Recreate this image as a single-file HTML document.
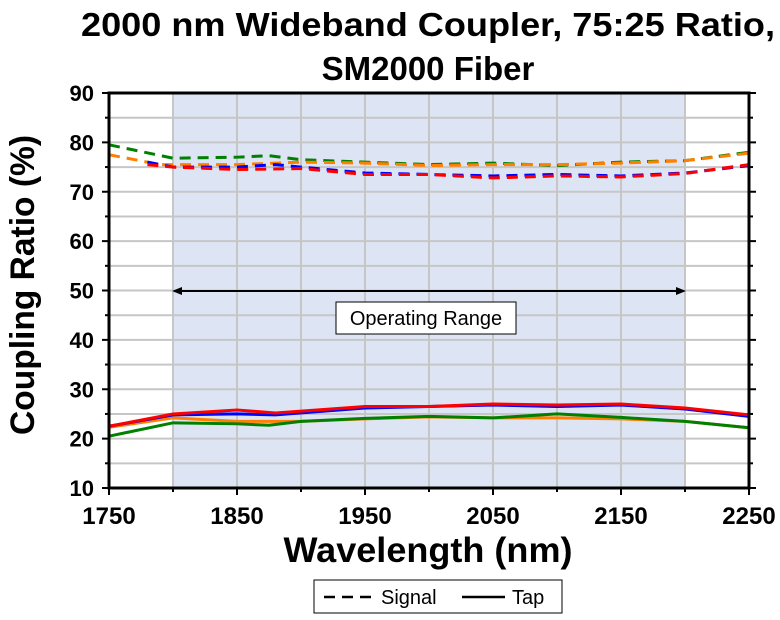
<!DOCTYPE html><html><head><style>body{margin:0;background:#fff}svg{font-family:"Liberation Sans",Arial,sans-serif;font-weight:bold}</style></head><body>
<svg id="s" width="780" height="615" viewBox="0 0 780 615" xmlns="http://www.w3.org/2000/svg">
<text x="428" y="36" font-size="33" text-anchor="middle" textLength="694" lengthAdjust="spacingAndGlyphs">2000 nm Wideband Coupler, 75:25 Ratio,</text>
<text x="428" y="80" font-size="33" text-anchor="middle">SM2000 Fiber</text>
<rect x="173" y="93" width="512" height="395" fill="#dde5f5"/>
<g id="grid" stroke="#c6c6c6" stroke-width="2"></g>
<g id="series" fill="none" stroke-width="3"></g>
<line x1="178" y1="291" x2="680" y2="291" stroke="#000" stroke-width="2"/>
<polygon points="172,291 182,287 182,295" fill="#000"/>
<polygon points="686,291 676,287 676,295" fill="#000"/>
<rect x="336" y="302" width="180" height="32" fill="#fff" stroke="#000" stroke-width="1"/>
<text x="426" y="325" font-size="20" font-weight="normal" text-anchor="middle">Operating Range</text>
<g id="axes"></g>
<text transform="translate(34,285) rotate(-90)" font-size="34" text-anchor="middle" textLength="300" lengthAdjust="spacingAndGlyphs">Coupling Ratio (%)</text>
<text x="428" y="562" font-size="35" text-anchor="middle" textLength="289" lengthAdjust="spacingAndGlyphs">Wavelength (nm)</text>
<rect x="314" y="580" width="248" height="33" fill="#fff" stroke="#000" stroke-width="1"/>
<line x1="324" y1="597" x2="372" y2="597" stroke="#000" stroke-width="2.5" stroke-dasharray="11,7"/>
<text x="381" y="604" font-size="20" font-weight="normal">Signal</text>
<line x1="462" y1="597" x2="505" y2="597" stroke="#000" stroke-width="2.5"/>
<text x="512" y="604" font-size="20" font-weight="normal">Tap</text>
</svg>
<script>
const X=w=>109+(w-1750)*1.28, Y=v=>488-(v-10)*4.9375, NS="http://www.w3.org/2000/svg";
function el(p,t,a){const e=document.createElementNS(NS,t);for(const k in a)e.setAttribute(k,a[k]);p.appendChild(e);return e;}
const g=document.getElementById('grid');
for(let w=1800;w<2250;w+=50)el(g,'line',{x1:X(w),y1:93,x2:X(w),y2:488});
for(let v=15;v<90;v+=5)el(g,'line',{x1:109,y1:Y(v),x2:749,y2:Y(v)});
const S=document.getElementById('series');
function ser(c,d,dash){el(S,'polyline',{stroke:c,points:d.map(p=>X(p[0])+','+Y(p[1])).join(' '),'stroke-dasharray':dash?'11,7':'none'});}
ser('#ff8000',[[1750,22.3],[1800,24.2],[1850,23.5],[1900,23.5],[1950,24],[2000,24.4],[2050,24.2],[2100,24.2],[2150,24],[2200,23.5],[2250,22.2]]);
ser('#008000',[[1750,20.5],[1800,23.2],[1850,23],[1875,22.7],[1900,23.5],[1950,24.1],[2000,24.5],[2050,24.2],[2100,25],[2150,24.3],[2200,23.5],[2250,22.2]]);
ser('#0000ff',[[1750,22.5],[1800,24.8],[1850,25],[1880,24.8],[1950,26.2],[2000,26.5],[2050,26.8],[2100,26.5],[2150,26.8],[2200,26],[2250,24.5]]);
ser('#ff0000',[[1750,22.5],[1800,25],[1850,25.8],[1880,25.2],[1950,26.5],[2000,26.5],[2050,27],[2100,26.8],[2150,27],[2200,26.2],[2250,24.8]]);
ser('#008000',[[1750,79.5],[1800,76.8],[1850,77],[1875,77.3],[1900,76.5],[1950,76],[2000,75.5],[2050,75.8],[2100,75.3],[2150,76],[2200,76.3],[2250,78]],1);
ser('#ff8000',[[1750,77.5],[1790,75.5],[1850,75.5],[1900,76],[1950,75.8],[2000,75.3],[2050,75.5],[2100,75.5],[2150,75.8],[2200,76.3],[2250,77.8]],1);
ser('#0000ff',[[1780,76],[1800,75],[1850,75],[1880,75.5],[1900,75],[1950,73.8],[2000,73.5],[2050,73.2],[2100,73.5],[2150,73.2],[2200,73.8],[2250,75.3]],1);
ser('#ff0000',[[1780,75.5],[1800,75],[1850,74.5],[1900,74.7],[1950,73.5],[2000,73.5],[2050,72.8],[2100,73.2],[2150,73],[2200,73.7],[2250,75.5]],1);
const A=document.getElementById('axes');
el(A,'rect',{x:109,y:93,width:640,height:395,fill:'none',stroke:'#000','stroke-width':3});
for(let v=10;v<=90;v+=5){const maj=v%10==0;el(A,'line',{x1:109-(maj?7:4),y1:Y(v),x2:109,y2:Y(v),stroke:'#000','stroke-width':2});el(A,'line',{x1:749,y1:Y(v),x2:749+(maj?7:4),y2:Y(v),stroke:'#000','stroke-width':2});
 if(maj){const t=el(A,'text',{x:94,y:Y(v)+8,'font-size':22,'text-anchor':'end'});t.textContent=v;}}
for(let w=1750;w<=2250;w+=50){const maj=(w-1750)%100==0;el(A,'line',{x1:X(w),y1:488,x2:X(w),y2:488+(maj?7:4),stroke:'#000','stroke-width':2});
 if(maj){const t=el(A,'text',{x:X(w),y:524,'font-size':24,'text-anchor':'middle'});t.textContent=w;}}
</script>
</body></html>
